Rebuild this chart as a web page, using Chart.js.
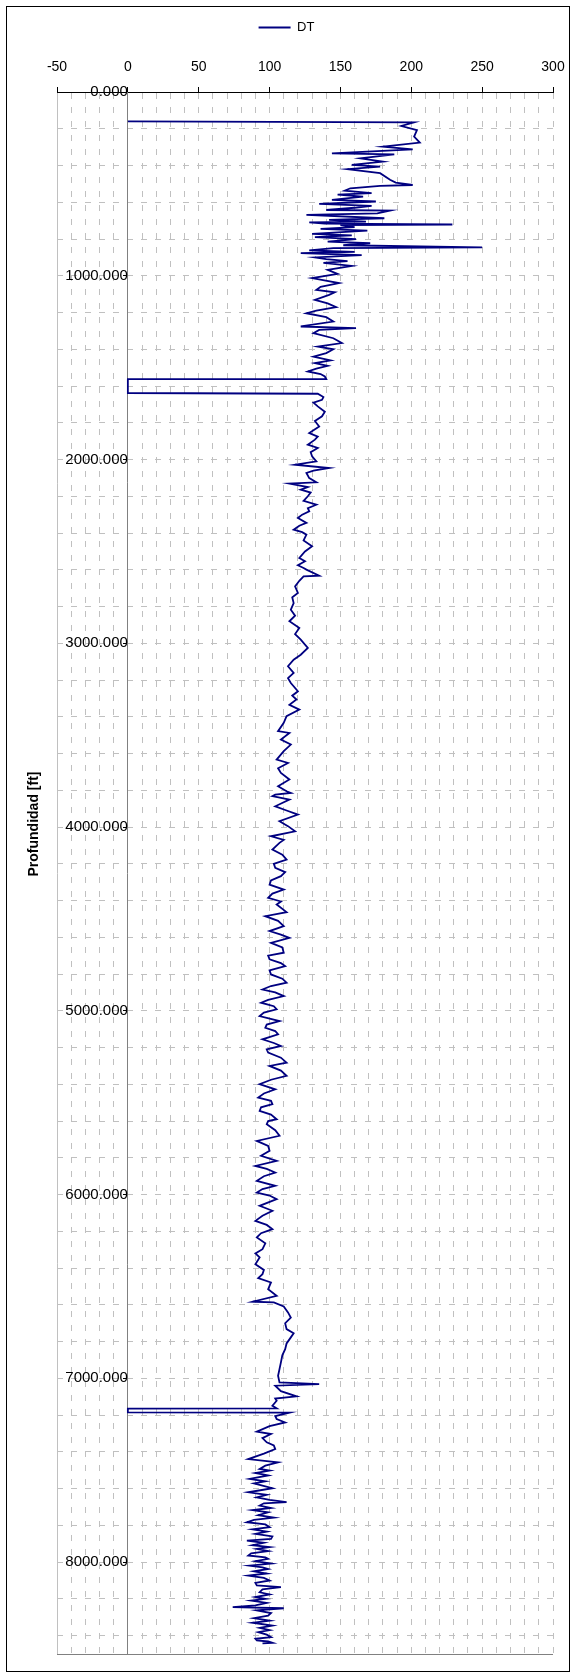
<!DOCTYPE html>
<html>
<head>
<meta charset="utf-8">
<script src="https://cdn.jsdelivr.net/npm/chart.js@4"></script>
<style>
  html, body { margin: 0; padding: 0; background: #fff; }
  canvas { display: block; }
</style>
</head>
<body>
<canvas id="dtChart" width="576" height="1678"></canvas>
<script>
// DT log (us/ft) vs depth (ft)
var depthUpper = [160,165,185,207,243,275,297,312,334,339,361,379,397,406,420,442,478,493,506,511,
  524,537,550,558,569,587,596,609,620,630,642,645,660,669,687,696,705,710,716,721,
  724,735,745,754,772,780,790,801,814,823,834,845,850,862,870,877,888,900,910,920,
  930,946,968,990,1013,1040,1060,1077,1090,1104,1131,1150,1171,1190,1204,1225,1249,1276,1285,1295,
  1312,1340,1366,1385,1400,1421,1440,1460,1475,1490,1505,1521,1535,1548,1562,1563,1638,1642];
var dtUpper = [0,202,193,204,202,206,180,201,144,188,164,180,158,178,155,178,185,189,201,178,
  157,153,172,148,166,144,175,135,172,160,140,185,176,126,181,142,168,128,139,229,
  150,160,136,169,130,158,132,161,141,171,152,250,145,128,160,122,165,132,140,155,
  138,158,141,148,130,149,136,133,146,142,132,141,147,133,126,140,145,122,161,135,
  131,145,151,134,145,140,131,143,132,141,133,127,136,139,140,0,0,134];

var depthMiddle = [1660,1675,1690,1711,1740,1765,1790,1820,1856,1875,1892,1919,1937,1960,1983,2010,2028,2046,2060,2073,
  2101,2124,2131,2150,2164,2180,2200,2225,2246,2265,2282,2300,2318,2345,2360,2382,2395,2409,2440,2472,
  2500,2536,2554,2575,2590,2599,2632,2636,2660,2690,2726,2750,2781,2817,2850,2880,2917,2950,2980,3025,
  3062,3089,3125,3161,3190,3216,3261,3285,3306,3335,3361,3397,3433,3478,3488,3524,3551,3587,3633,3651,
  3680,3705,3741,3778,3805,3814,3823,3832];
var dtMiddle = [138,137,131,134,139,137,132,135,128,134,132,127,134,129,130,133,118,142,131,126,
  128,133,114,127,122,129,127,124,133,127,128,123,120,126,121,117,123,126,124,130,
  125,121,125,120,124,126,135,124,121,118,120,116,117,115,118,114,121,118,122,127,
  122,117,113,117,113,115,120,116,119,114,121,112,110,106,114,108,115,110,105,113,
  106,108,114,106,112,115,104,102];

var depthLower = [3850,3887,3910,3932,3968,3995,4023,4050,4070,4086,4122,4150,4177,4200,4222,4245,4267,4290,4313,4340,
  4362,4385,4405,4421,4463,4485,4510,4539,4566,4585,4603,4630,4655,4684,4700,4720,4740,4757,4780,4802,
  4825,4847,4865,4884,4900,4920,4940,4956,4975,4992,5010,5029,5056,5075,5092,5110,5128,5155,5175,5191,
  5210,5227,5255,5282,5300,5325,5354,5375,5399,5427,5450,5472,5490,5508,5525,5545,5565,5590,5600,5617,
  5650,5680,5708,5735,5762,5789,5816,5844,5860,5880,5900,5925,5952,5970,5989,6005,6025,6061,6088,6115,
  6143,6165,6188,6210,6233,6265,6297,6320,6342];
var dtLower = [114,104,112,120,107,113,118,101,110,107,102,109,112,103,104,111,108,101,100,110,
  102,99,108,105,112,97,106,110,100,108,114,101,109,110,99,100,108,111,100,101,
  109,112,101,95,104,110,99,94,103,105,96,93,107,98,97,104,106,95,103,108,
  98,99,108,112,100,108,112,101,93,104,96,92,101,102,94,93,101,105,99,98,
  104,107,91,99,100,94,105,90,98,104,96,91,104,95,91,100,105,93,102,95,
  90,98,102,94,91,97,95,90,93];

var depthDeep = [6379,6410,6433,6455,6478,6515,6551,6583,6587,6609,6641,6669,6700,6732,6755,6777,6810,6841,6875,6913,
  6950,6986,7022,7031,7040,7070,7098,7110,7122,7149,7163,7165,7185,7187,7205,7221,7240,7260,7290,7303,
  7325,7348,7365,7385,7410,7439,7457,7475];
var dtDeep = [90,96,95,92,101,99,105,88,103,110,113,115,111,112,117,115,112,111,109,108,
  107,106,107,135,104,108,119,104,105,102,105,0,0,114,104,105,111,100,91,101,
  95,98,103,104,96,85,106,97];

var depthBottom = [7493,7502,7515,7528,7547,7560,7572,7584,7598,7620,7634,7648,7661,7674,7680,7692,7705,7717,7729,7745,
  7758,7770,7783,7795,7810,7822,7834,7846,7860,7874,7883,7895,7908,7918,7928,7940,7952,7964,7974,7982,
  7995,8008,8019,8028,8037,8050,8062,8073,8086,8100,8113,8127,8136,8148,8164,8176,8190,8200,8209,8222,
  8235,8245,8251,8263,8277,8291,8305,8318,8330,8345,8358,8370,8381,8395,8408,8417,8426,8432,8439,8442];
var dtBottom = [93,100,90,99,86,97,89,95,102,85,98,91,100,112,96,93,101,88,99,92,
  103,89,84,97,100,88,98,90,102,101,84,96,88,100,91,99,87,85,97,99,
  90,101,86,95,99,89,98,85,96,100,90,91,108,95,93,100,90,97,87,98,
  90,74,110,91,101,99,89,100,88,102,93,100,92,98,101,90,91,99,102,95];

var seriesName = 'DT';
var xMin = -50, xMax = 300, xStep = 10, xLabelStep = 50;
var yMin = 0, yMax = 8500, yStep = 200, yLabelStep = 1000;

var fontFamily = 'Arial, "Liberation Sans", sans-serif';

var depthAll = depthUpper.concat(depthMiddle, depthLower, depthDeep, depthBottom);
var dtAll = dtUpper.concat(dtMiddle, dtLower, dtDeep, dtBottom);
var points = [];
for (var i = 0; i < depthAll.length; i++) {
  points.push({x: dtAll[i], y: depthAll[i]});
}

// outer frame around the whole chart
var framePlugin = {
  id: 'frame',
  beforeDraw: function(chart) {
    var c = chart.ctx;
    c.save();
    c.fillStyle = '#fff';
    c.fillRect(0, 0, chart.width, chart.height);
    c.strokeStyle = '#000';
    c.lineWidth = 1;
    c.strokeRect(6.5, 6.5, chart.width - 13, chart.height - 13);
    c.restore();
  }
};

// the depth title sits a bit above the middle of the plot
var titleShift = {
  id: 'titleShift',
  afterLayout: function(chart) {
    var s = chart.scales.yTitle;
    if (s) s.bottom = s.bottom - 98;
  }
};

var gridDash = [6, 8];

new Chart(document.getElementById('dtChart').getContext('2d'), {
  type: 'scatter',
  data: {
    datasets: [{
      label: seriesName,
      data: points,
      showLine: true,
      borderColor: '#000080',
      backgroundColor: '#000080',
      borderWidth: 1.8,
      pointRadius: 0,
      tension: 0,
      fill: false
    }]
  },
  options: {
    responsive: false,
    animation: false,
    devicePixelRatio: 1,
    layout: { padding: { top: 11, left: 20, right: 23, bottom: 24 } },
    plugins: {
      tooltip: { enabled: false },
      legend: {
        position: 'top',
        labels: {
          usePointStyle: true,
          pointStyle: 'line',
          pointStyleWidth: 32,
          padding: 10,
          color: '#000',
          font: { family: fontFamily, size: 13 }
        }
      }
    },
    scales: {
      x: {
        type: 'linear',
        position: 'top',
        min: xMin,
        max: xMax,
        afterFit: function(s) { s.height = 48; },
        ticks: {
          stepSize: xStep,
          autoSkip: false,
          maxRotation: 0,
          padding: 11,
          color: '#000',
          font: { family: fontFamily, size: 14 },
          callback: function(v) { return v % xLabelStep === 0 ? v : ''; }
        },
        grid: {
          color: '#c0c0c0',
          lineWidth: 1,
          tickLength: 5,
          tickColor: function(ctx) {
            return ctx.tick && ctx.tick.value % xLabelStep === 0 ? '#000' : 'rgba(0,0,0,0)';
          }
        },
        border: {
          display: true,
          color: '#000',
          width: 1,
          dash: function(ctx) {
            if (ctx.type !== 'tick') return [];
            return ctx.tick.value === xMin ? [] : gridDash;
          }
        }
      },
      y: {
        type: 'linear',
        reverse: true,
        min: yMin,
        max: yMax,
        position: { x: 0 },
        ticks: {
          stepSize: yStep,
          autoSkip: false,
          padding: 4,
          color: '#000',
          font: { family: fontFamily, size: 15 },
          callback: function(v) { return v % yLabelStep === 0 ? v.toFixed(3) : ''; }
        },
        grid: {
          color: function(ctx) {
            return ctx.tick && ctx.tick.value === yMax ? '#808080' : '#c0c0c0';
          },
          lineWidth: 1,
          tickLength: 4,
          tickColor: function(ctx) {
            return ctx.tick && ctx.tick.value % yLabelStep === 0 ? '#000' : 'rgba(0,0,0,0)';
          }
        },
        border: {
          display: true,
          color: '#808080',
          width: 1,
          dash: function(ctx) {
            if (ctx.type !== 'tick') return [];
            return ctx.tick.value === yMax ? [] : gridDash;
          }
        }
      },
      yTitle: {
        type: 'linear',
        position: 'left',
        reverse: true,
        min: yMin,
        max: yMax,
        afterFit: function(s) { s.width = 37; },
        ticks: { display: false },
        grid: { display: false, drawTicks: false },
        border: { display: false },
        title: {
          display: true,
          text: 'Profundidad [ft]',
          color: '#000',
          padding: { top: 6, bottom: 6 },
          font: { family: fontFamily, size: 14, weight: 'bold' }
        }
      }
    }
  },
  plugins: [framePlugin, titleShift]
});
</script>
</body>
</html>
